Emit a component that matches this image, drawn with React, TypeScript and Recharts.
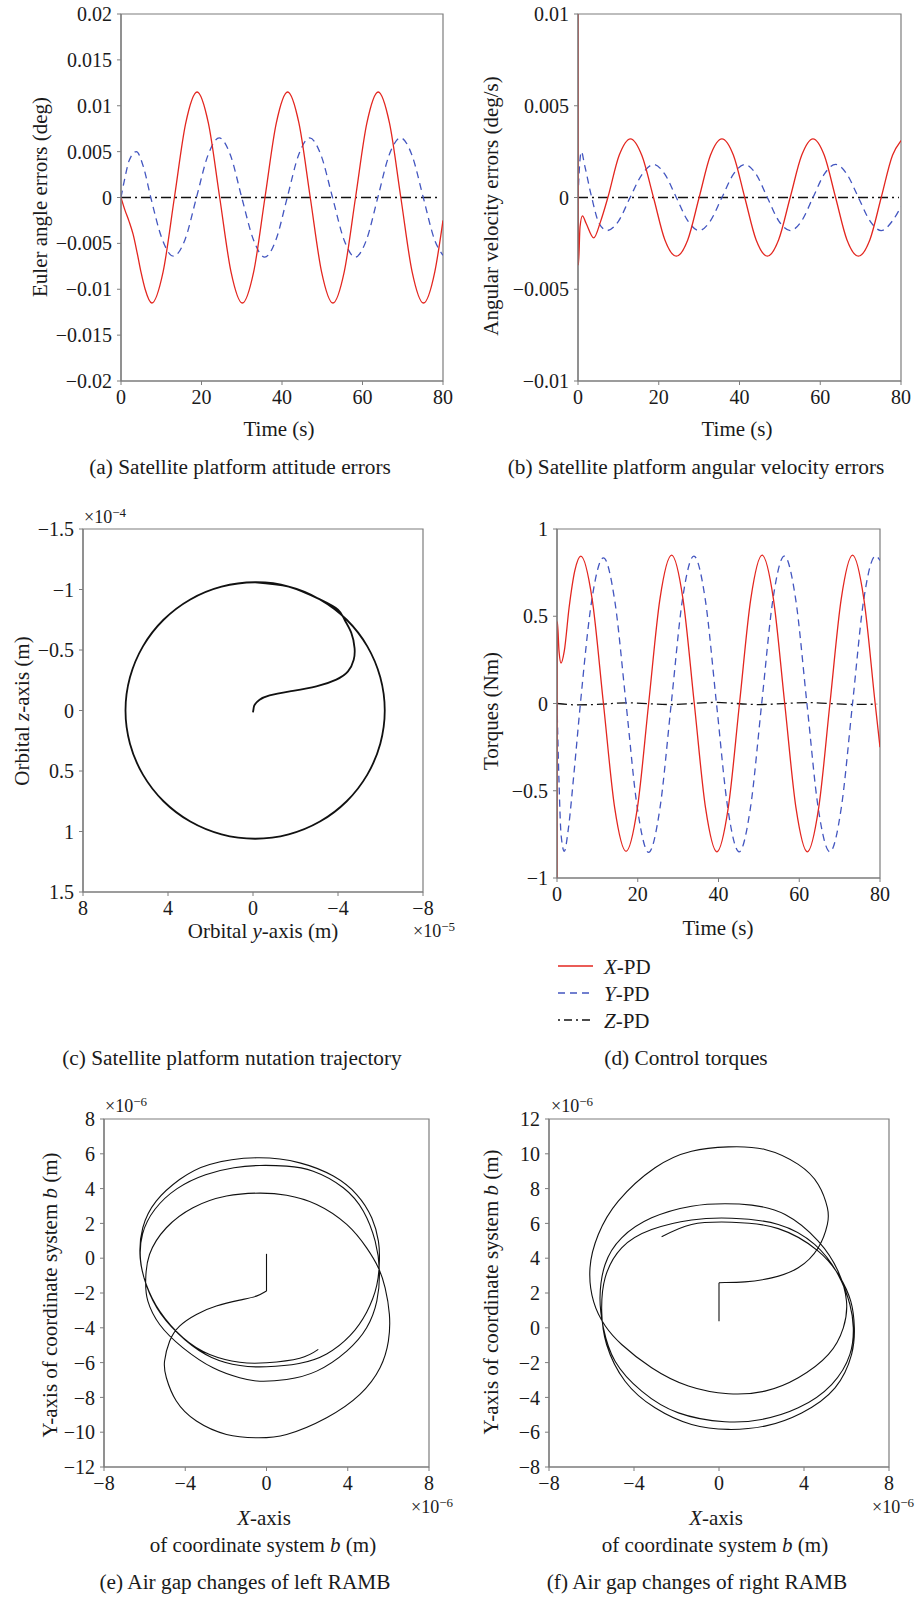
import React from "react";
import { LineChart, Line, XAxis, YAxis, ReferenceArea } from "recharts";

const SERIF = '"Liberation Serif", "Times New Roman", serif';
const RED = "#e3261f";
const BLUE = "#4356c0";
const BLACK = "#111111";
const FRAME = "#7d7d7d";

// (a) Euler angle errors (deg)
const eulerXt = [0, 1, 2, 3, 4, 5, 6, 7.65, 10.46, 13.27, 16.08, 18.9, 21.71, 24.52, 27.33, 30.15, 32.96, 35.77, 38.58, 41.4, 44.21, 47.02, 49.83, 52.65, 55.46, 58.27, 61.08, 63.9, 66.71, 69.52, 72.33, 75.15, 77.96, 80];
const eulerXv = [0, -0.0014, -0.0026, -0.004, -0.006, -0.0082, -0.01, -0.0115, -0.0081, 0, 0.0081, 0.0115, 0.0081, 0, -0.0081, -0.0115, -0.0081, 0, 0.0081, 0.0115, 0.0081, 0, -0.0081, -0.0115, -0.0081, 0, 0.0081, 0.0115, 0.0081, 0, -0.0081, -0.0115, -0.0081, -0.0025];
const eulerYt = [0, 1, 2, 3.8, 5.6, 7.4, 10.2, 13.0, 15.9, 18.75, 21.6, 24.4, 27.2, 30.0, 32.9, 35.7, 38.5, 41.3, 44.1, 46.9, 49.7, 52.55, 55.4, 58.2, 61.0, 63.8, 66.6, 69.45, 72.3, 75.1, 77.9, 80];
const eulerYv = [0, 0.0022, 0.004, 0.005, 0.0033, 0, -0.0045, -0.0064, -0.0046, 0, 0.0046, 0.0065, 0.0046, 0, -0.0046, -0.0065, -0.0046, 0, 0.0046, 0.0065, 0.0046, 0, -0.0046, -0.0065, -0.0046, 0, 0.0046, 0.0065, 0.0046, 0, -0.0046, -0.0063];
const eulerZt = [0, 79.5];
const eulerZv = [0, 0];

// (b) angular velocity errors (deg/s)
const rateXt = [0, 0.1, 0.5, 1.1, 2.0, 3.9, 5.6, 7.4, 10.2, 13.0, 15.8, 18.7, 21.5, 24.35, 27.2, 30.0, 32.8, 35.65, 38.5, 41.3, 44.1, 46.9, 49.7, 52.55, 55.4, 58.2, 61.0, 63.8, 66.6, 69.45, 72.3, 75.1, 77.9, 80];
const rateXv = [0.01, -0.0037, -0.0016, -0.001, -0.0014, -0.0022, -0.0013, 0, 0.0023, 0.0032, 0.0023, 0, -0.0023, -0.0032, -0.0023, 0, 0.0023, 0.0032, 0.0023, 0, -0.0023, -0.0032, -0.0023, 0, 0.0023, 0.0032, 0.0023, 0, -0.0023, -0.0032, -0.0023, 0, 0.0023, 0.0031];
const rateYt = [0, 0.4, 0.85, 1.6, 3.4, 5.2, 7.2, 10.0, 12.9, 15.9, 18.75, 21.5, 24.35, 27.2, 30.0, 32.8, 35.65, 38.5, 41.3, 44.1, 46.9, 49.7, 52.55, 55.4, 58.2, 61.0, 63.8, 66.6, 69.45, 72.3, 75.1, 77.9, 80];
const rateYv = [0, 0.0018, 0.0025, 0.0018, 0, -0.0014, -0.0018, -0.0013, 0, 0.00127, 0.0018, 0.00127, 0, -0.00127, -0.0018, -0.00127, 0, 0.00127, 0.0018, 0.00127, 0, -0.00127, -0.0018, -0.00127, 0, 0.00127, 0.0018, 0.00127, 0, -0.00127, -0.0018, -0.00127, -0.0005];
const rateZt = [0, 79.5];
const rateZv = [0, 0];

// (c) nutation trajectory, y in 1e-5 m, z in 1e-4 m
const nutY = [0, -0.03, -0.08, -0.31, -0.78, -1.73, -2.98, -3.92, -4.47, -4.74, -4.78, -4.63, -4.31, -4.0, -3.15, -1.68, -0.1, 1.48, 2.95, 4.21, 5.18, 5.79, 6.0, 5.79, 5.18, 4.21, 2.95, 1.48, -0.1, -1.68, -3.15, -4.41, -5.38, -5.99, -6.2, -5.99, -5.38, -4.41, -3.15, -1.68, -0.1];
const nutZ = [0.015, -0.02, -0.048, -0.089, -0.125, -0.158, -0.199, -0.255, -0.323, -0.42, -0.516, -0.64, -0.75, -0.833, -0.918, -1.024, -1.06, -1.024, -0.918, -0.75, -0.53, -0.274, 0, 0.274, 0.53, 0.75, 0.918, 1.024, 1.06, 1.024, 0.918, 0.75, 0.53, 0.274, 0, -0.274, -0.53, -0.75, -0.918, -1.024, -1.06];

// (d) control torques (Nm)
const torqueXt = [0, 0.08, 0.5, 1.0, 1.8, 3.0, 4.4, 5.9, 8.7, 11.5, 14.3, 17.1, 19.9, 22.7, 25.5, 28.4, 31.2, 34.0, 36.8, 39.6, 42.4, 45.2, 48.0, 50.8, 53.6, 56.4, 59.2, 62.0, 64.8, 67.6, 70.4, 73.2, 76.0, 78.8, 80];
const torqueXv = [-1.0, 0.47, 0.3, 0.232, 0.3, 0.55, 0.76, 0.845, 0.6, 0, -0.6, -0.847, -0.6, 0, 0.6, 0.85, 0.6, 0, -0.6, -0.85, -0.6, 0, 0.6, 0.85, 0.6, 0, -0.6, -0.85, -0.6, 0, 0.6, 0.85, 0.6, 0, -0.25];
const torqueYt = [0, 0.5, 1.0, 1.8, 2.8, 4.2, 5.8, 8.6, 11.5, 14.3, 17.1, 19.9, 22.7, 25.5, 28.3, 31.1, 33.9, 36.7, 39.5, 42.3, 45.1, 47.9, 50.7, 53.5, 56.3, 59.1, 61.9, 64.7, 67.6, 70.4, 73.2, 76.0, 78.9, 80];
const torqueYv = [0, -0.45, -0.75, -0.847, -0.72, -0.4, 0, 0.59, 0.835, 0.59, 0, -0.6, -0.853, -0.6, 0, 0.6, 0.845, 0.6, 0, -0.6, -0.85, -0.6, 0, 0.6, 0.845, 0.6, 0, -0.6, -0.85, -0.6, 0, 0.6, 0.845, 0.82];
const torqueZt = [0, 5, 11, 17, 28, 39, 50, 62, 73, 79.3];
const torqueZv = [0, -0.008, -0.004, 0.004, -0.006, 0.006, -0.006, 0.005, -0.005, -0.004];

// (e) left RAMB air gap, 1e-6 m
const leftStemX = [0, 0];
const leftStemY = [0.25, -1.89];
const leftX = [0, -0.5, -1.32, -2.47, -3.45, -4.28, -4.77, -5.02, -4.93, -4.44, -3.45, -1.97, -0.49, 0.99, 2.96, 4.6, 5.59, 6.0, 6.05, 5.84, 5.51, 4.93, 3.95, 2.47, 0.99, -0.33, -1.97, -3.62, -4.93, -5.76, -5.95, -5.84, -5.26, -4.11, -2.63, -1.32, -0.33, 0.99, 2.47, 3.95, 4.93, 5.43, 5.56, 5.35, 4.77, 3.78, 2.3, 0.99, -0.33, -1.6, -3.0, -4.4, -5.5, -6.1, -6.2, -5.9, -5.2, -4.0, -2.7, -1.3, 0, 1.6, 2.96, 4.11, 4.93, 5.43, 5.56, 5.51, 5.18, 4.44, 3.29, 1.64, -0.49, -2.8, -4.28, -5.43, -6.09, -6.22, -5.92, -5.26, -4.11, -2.8, -1.32, 0, 1.64, 2.55];
const leftY = [-1.89, -2.18, -2.41, -2.75, -3.23, -3.9, -4.77, -5.92, -6.87, -8.21, -9.36, -10.13, -10.32, -10.13, -9.17, -7.83, -6.3, -4.77, -3.23, -1.7, -0.56, 0.59, 1.94, 3.09, 3.62, 3.74, 3.57, 2.9, 1.75, 0.21, -1.33, -2.47, -3.81, -5.15, -6.3, -6.87, -7.07, -6.97, -6.49, -5.34, -4.0, -2.47, -0.74, 0.98, 2.7, 4.05, 5.0, 5.29, 5.33, 5.2, 4.8, 4.0, 2.8, 1.4, -0.1, -1.6, -3.2, -4.7, -5.7, -6.17, -6.24, -6.05, -5.5, -4.45, -3.1, -1.55, -0.1, 0.98, 2.32, 3.66, 4.72, 5.48, 5.77, 5.39, 4.52, 3.28, 1.75, 0.02, -1.51, -3.04, -4.57, -5.53, -5.98, -6.01, -5.75, -5.24];

// (f) right RAMB air gap, 1e-6 m
const rightStemX = [0, 0];
const rightStemY = [0.38, 2.59];
const rightX = [0, 0.28, 1.22, 2.48, 3.73, 4.67, 5.1, 5.1, 4.67, 3.73, 2.16, 0.44, -1.29, -3.01, -4.74, -5.68, -6.07, -5.9, -5.35, -4.58, -3.17, -1.44, 0.44, 2.16, 3.73, 5.15, 5.85, 6.0, 5.6, 4.67, 3.11, 1.54, 0.28, -1.29, -3.17, -4.58, -5.36, -5.6, -5.44, -4.89, -3.64, -1.91, 0.28, 2.0, 3.73, 5.3, 6.16, 6.32, 6.16, 5.6, 4.5, 2.79, 0.6, -1.29, -3.17, -4.58, -5.36, -5.52, -5.29, -4.42, -3.01, -1.29, 0.44, 2.16, 3.89, 5.46, 6.24, 6.37, 6.2, 5.65, 4.67, 2.79, 0.6, -1.29, -2.7];
const rightY = [2.59, 2.6, 2.64, 2.87, 3.45, 4.6, 5.94, 6.9, 8.24, 9.39, 10.25, 10.4, 10.15, 9.2, 7.28, 5.36, 3.45, 1.5, 0.1, -0.96, -2.3, -3.35, -3.79, -3.64, -2.87, -1.53, 0, 1.53, 3.26, 4.98, 6.51, 7.05, 7.13, 6.99, 6.32, 5.17, 3.64, 1.72, 0, -1.92, -3.64, -4.89, -5.4, -5.27, -4.6, -3.26, -1.53, 0, 1.34, 3.07, 4.79, 5.94, 6.3, 6.2, 5.65, 4.6, 2.87, 0.96, -0.96, -3.07, -4.6, -5.56, -5.84, -5.65, -4.89, -3.45, -1.53, 0, 1.53, 3.0, 4.41, 5.7, 6.07, 5.94, 5.23];

const timeTicks = [0, 20, 40, 60, 80];
const eulerTicks = [-0.02, -0.015, -0.01, -0.005, 0, 0.005, 0.01, 0.015, 0.02];
const rateTicks = [-0.01, -0.005, 0, 0.005, 0.01];
const nutYTicks = [8, 4, 0, -4, -8];
const nutZTicks = [-1.5, -1, -0.5, 0, 0.5, 1, 1.5];
const torqueTicks = [-1, -0.5, 0, 0.5, 1];
const gapXTicks = [-8, -4, 0, 4, 8];
const leftGapTicks = [-12, -10, -8, -6, -4, -2, 0, 2, 4, 6, 8];
const rightGapTicks = [-8, -6, -4, -2, 0, 2, 4, 6, 8, 10, 12];

const pts = (xs: number[], ys: number[]) => xs.map((x, i) => ({ x, y: ys[i] }));
const fmt = (v: number) => String(v).replace("-", "\u2212");

const tickStyle = { fill: "#1a1a1a", fontSize: 20, fontFamily: SERIF };

type Box = { l: number; t: number; r: number; b: number };

function Panel(props: {
  left: number;
  top: number;
  width: number;
  height: number;
  box: Box;
  xDomain: [number, number];
  yDomain: [number, number];
  xTicks: number[];
  yTicks: number[];
  xReversed?: boolean;
  yReversed?: boolean;
  children: React.ReactNode;
}) {
  const { left, top, width, height, box, xDomain, yDomain } = props;
  return (
    <div style={{ position: "absolute", left, top }}>
      <LineChart
        width={width}
        height={height}
        margin={{ top: box.t, right: width - box.r, left: 0, bottom: 0 }}
      >
        <XAxis
          type="number"
          dataKey="x"
          domain={xDomain}
          ticks={props.xTicks}
          reversed={props.xReversed}
          allowDataOverflow
          height={height - box.b}
          tickFormatter={fmt}
          tick={tickStyle}
          tickSize={4}
          tickMargin={5}
          axisLine={{ stroke: FRAME, strokeWidth: 1.2 }}
          tickLine={{ stroke: FRAME }}
          interval={0}
        />
        <YAxis
          type="number"
          dataKey="y"
          domain={yDomain}
          ticks={props.yTicks}
          reversed={props.yReversed}
          allowDataOverflow
          width={box.l}
          tickFormatter={fmt}
          tick={tickStyle}
          tickSize={4}
          tickMargin={5}
          axisLine={{ stroke: FRAME, strokeWidth: 1.2 }}
          tickLine={{ stroke: FRAME }}
          interval={0}
        />
        <ReferenceArea
          x1={xDomain[0]}
          x2={xDomain[1]}
          y1={yDomain[0]}
          y2={yDomain[1]}
          fill="none"
          stroke={FRAME}
          strokeWidth={1.2}
          ifOverflow="visible"
        />
        {props.children}
      </LineChart>
    </div>
  );
}

function T(props: { x: number; y: number; rot?: boolean; size?: number; children: React.ReactNode }) {
  return (
    <div
      style={{
        position: "absolute",
        left: props.x,
        top: props.y,
        transform: `translate(-50%, -50%)${props.rot ? " rotate(-90deg)" : ""}`,
        whiteSpace: "nowrap",
        fontFamily: SERIF,
        fontSize: props.size ?? 21,
        lineHeight: 1,
        color: "#1a1a1a",
      }}
    >
      {props.children}
    </div>
  );
}

function Mult({ x, y, exp }: { x: number; y: number; exp: string }) {
  return (
    <T x={x} y={y} size={18}>
      ×10<sup style={{ fontSize: 13, verticalAlign: "6px" }}>{exp}</sup>
    </T>
  );
}

const series = (data: { x: number; y: number }[], color: string, dash?: string, type: any = "monotone", w = 1.3) => (
  <Line
    data={data}
    dataKey="y"
    type={type}
    stroke={color}
    strokeWidth={w}
    strokeDasharray={dash}
    dot={false}
    activeDot={false}
    isAnimationActive={false}
  />
);

const DASH = "7 5";
const DASHDOT = "10 4 2 4";
const CAP = 21.3;

export default function App() {
  return (
    <div style={{ position: "absolute", left: 0, top: 0, width: 917, height: 1600, background: "#fff", overflow: "hidden" }}>
      {/* (a) */}
      <Panel left={0} top={0} width={460} height={420} box={{ l: 121, t: 14, r: 443, b: 381 }}
        xDomain={[0, 80]} yDomain={[-0.02, 0.02]} xTicks={timeTicks} yTicks={eulerTicks}>
        {series(pts(eulerZt, eulerZv), BLACK, DASHDOT, "linear")}
        {series(pts(eulerYt, eulerYv), BLUE, DASH)}
        {series(pts(eulerXt, eulerXv), RED)}
      </Panel>
      <T x={40} y={197} rot>Euler angle errors (deg)</T>
      <T x={279} y={429}>Time (s)</T>
      <T x={240} y={468} size={CAP}>(a) Satellite platform attitude errors</T>

      {/* (b) */}
      <Panel left={458} top={0} width={459} height={420} box={{ l: 120, t: 14, r: 443, b: 381 }}
        xDomain={[0, 80]} yDomain={[-0.01, 0.01]} xTicks={timeTicks} yTicks={rateTicks}>
        {series(pts(rateZt, rateZv), BLACK, DASHDOT, "linear")}
        {series(pts(rateYt, rateYv), BLUE, DASH)}
        {series(pts(rateXt, rateXv), RED)}
      </Panel>
      <T x={491} y={206} rot>Angular velocity errors (deg/s)</T>
      <T x={737} y={429}>Time (s)</T>
      <T x={696} y={468} size={CAP}>(b) Satellite platform angular velocity errors</T>

      {/* (c) */}
      <Panel left={0} top={500} width={460} height={430} box={{ l: 83, t: 29, r: 423, b: 392 }}
        xDomain={[-8, 8]} yDomain={[-1.5, 1.5]} xTicks={nutYTicks} yTicks={nutZTicks} xReversed yReversed>
        {series(pts(nutY, nutZ), BLACK, undefined, "natural", 1.8)}
      </Panel>
      <Mult x={105} y={516} exp="−4" />
      <T x={22} y={711} rot>Orbital <i>z</i>-axis (m)</T>
      <T x={263} y={931}>Orbital <i>y</i>-axis (m)</T>
      <Mult x={434} y={930} exp="−5" />
      <T x={232} y={1059} size={CAP}>(c) Satellite platform nutation trajectory</T>

      {/* (d) */}
      <Panel left={458} top={500} width={459} height={420} box={{ l: 99, t: 29, r: 422, b: 378 }}
        xDomain={[0, 80]} yDomain={[-1, 1]} xTicks={timeTicks} yTicks={torqueTicks}>
        {series(pts(torqueZt, torqueZv), BLACK, DASHDOT)}
        {series(pts(torqueYt, torqueYv), BLUE, DASH)}
        {series(pts(torqueXt, torqueXv), RED)}
      </Panel>
      <T x={491} y={711} rot>Torques (Nm)</T>
      <T x={718} y={928}>Time (s)</T>
      <svg style={{ position: "absolute", left: 555, top: 955 }} width={45} height={75}>
        <line x1={3} x2={38} y1={11} y2={11} stroke={RED} strokeWidth={1.4} />
        <line x1={3} x2={38} y1={38} y2={38} stroke={BLUE} strokeWidth={1.4} strokeDasharray={DASH} />
        <line x1={3} x2={38} y1={65} y2={65} stroke={BLACK} strokeWidth={1.3} strokeDasharray="2 4 8 4" />
      </svg>
      <div style={{ position: "absolute", left: 604, top: 954, fontFamily: SERIF, fontSize: 21, lineHeight: "27px", color: "#1a1a1a" }}>
        <div><i>X</i>-PD</div>
        <div><i>Y</i>-PD</div>
        <div><i>Z</i>-PD</div>
      </div>
      <T x={686} y={1059} size={CAP}>(d) Control torques</T>

      {/* (e) */}
      <Panel left={0} top={1090} width={460} height={420} box={{ l: 104, t: 29, r: 429, b: 377 }}
        xDomain={[-8, 8]} yDomain={[-12, 8]} xTicks={gapXTicks} yTicks={leftGapTicks}>
        {series(pts(leftStemX, leftStemY), BLACK, undefined, "linear", 1.1)}
        {series(pts(leftX, leftY), BLACK, undefined, "natural", 1.1)}
      </Panel>
      <Mult x={126} y={1105} exp="−6" />
      <T x={50} y={1295} rot>Y-axis of coordinate system <i>b</i> (m)</T>
      <Mult x={432} y={1506} exp="−6" />
      <T x={264} y={1518}><i>X</i>-axis</T>
      <T x={263} y={1545}>of coordinate system <i>b</i> (m)</T>
      <T x={245} y={1583} size={CAP}>(e) Air gap changes of left RAMB</T>

      {/* (f) */}
      <Panel left={458} top={1090} width={459} height={420} box={{ l: 91, t: 29, r: 431, b: 377 }}
        xDomain={[-8, 8]} yDomain={[-8, 12]} xTicks={gapXTicks} yTicks={rightGapTicks}>
        {series(pts(rightStemX, rightStemY), BLACK, undefined, "linear", 1.1)}
        {series(pts(rightX, rightY), BLACK, undefined, "natural", 1.1)}
      </Panel>
      <Mult x={572} y={1105} exp="−6" />
      <T x={491} y={1292} rot>Y-axis of coordinate system <i>b</i> (m)</T>
      <Mult x={893} y={1506} exp="−6" />
      <T x={716} y={1518}><i>X</i>-axis</T>
      <T x={715} y={1545}>of coordinate system <i>b</i> (m)</T>
      <T x={697} y={1583} size={CAP}>(f) Air gap changes of right RAMB</T>
    </div>
  );
}
